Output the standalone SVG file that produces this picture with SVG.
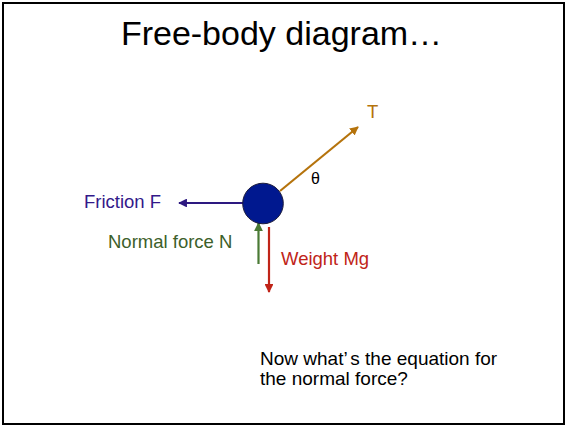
<svg xmlns="http://www.w3.org/2000/svg" width="565" height="427" viewBox="0 0 565 427">
<style>
text{font-family:"Liberation Sans",Arial,sans-serif;}
.lbl{font-size:18.5px;}
.q{font-size:19px;}
.conn{stroke-width:2.2;fill:none;}
</style>
<defs>
<marker id="hT" viewBox="0 0 10 10" refX="9" refY="5" markerWidth="4" markerHeight="4" orient="auto" markerUnits="strokeWidth"><path d="M0,0 L10,5 L0,10 z" fill="#b5730c"/></marker>
<marker id="hF" viewBox="0 0 10 10" refX="9" refY="5" markerWidth="4" markerHeight="4" orient="auto" markerUnits="strokeWidth"><path d="M0,0 L10,5 L0,10 z" fill="#2d1980"/></marker>
<marker id="hN" viewBox="0 0 10 10" refX="9" refY="5" markerWidth="4" markerHeight="4" orient="auto" markerUnits="strokeWidth"><path d="M0,0 L10,5 L0,10 z" fill="#4a7a35"/></marker>
<marker id="hW" viewBox="0 0 10 10" refX="9" refY="5" markerWidth="4" markerHeight="4" orient="auto" markerUnits="strokeWidth"><path d="M0,0 L10,5 L0,10 z" fill="#c02418"/></marker>
</defs>
<rect x="0" y="0" width="565" height="427" fill="#ffffff"/>
<rect x="3" y="3" width="561" height="421" fill="none" stroke="#000000" stroke-width="2"/>
<text x="281.5" y="45" font-size="34" text-anchor="middle" fill="#000000">Free-body diagram…</text>
<g id="connectors">
<line class="conn" x1="280" y1="191" x2="358" y2="127" stroke="#b5730c" marker-end="url(#hT)"/>
<line class="conn" x1="243" y1="203" x2="179" y2="203" stroke="#2d1980" marker-end="url(#hF)"/>
<line class="conn" x1="258.5" y1="264" x2="258.5" y2="223" stroke="#4a7a35" marker-end="url(#hN)"/>
<line class="conn" x1="269" y1="227" x2="269" y2="292" stroke="#c02418" marker-end="url(#hW)"/>
</g>
<g id="mass">
<circle cx="263" cy="203.5" r="20.3" fill="#00188f" stroke="#1a1a3a" stroke-width="1"/>
</g>
<g id="tension">
<text class="lbl" x="367" y="118" fill="#b5730c">T</text>
<text x="311" y="184" font-size="16" fill="#000000">θ</text>
</g>
<g id="friction">
<text class="lbl" x="84" y="208" fill="#33198a">Friction F</text>
</g>
<g id="normal">
<text class="lbl" x="108" y="248" fill="#3d5f2a">Normal force N</text>
</g>
<g id="weight">
<text class="lbl" x="281" y="265" fill="#c02418">Weight Mg</text>
</g>
<g id="question">
<text class="q" x="260" y="365" fill="#000000">Now what’<tspan dx="3">s the equation for</tspan></text>
<text class="q" x="260" y="385" fill="#000000">the normal force?</text>
</g>
</svg>
